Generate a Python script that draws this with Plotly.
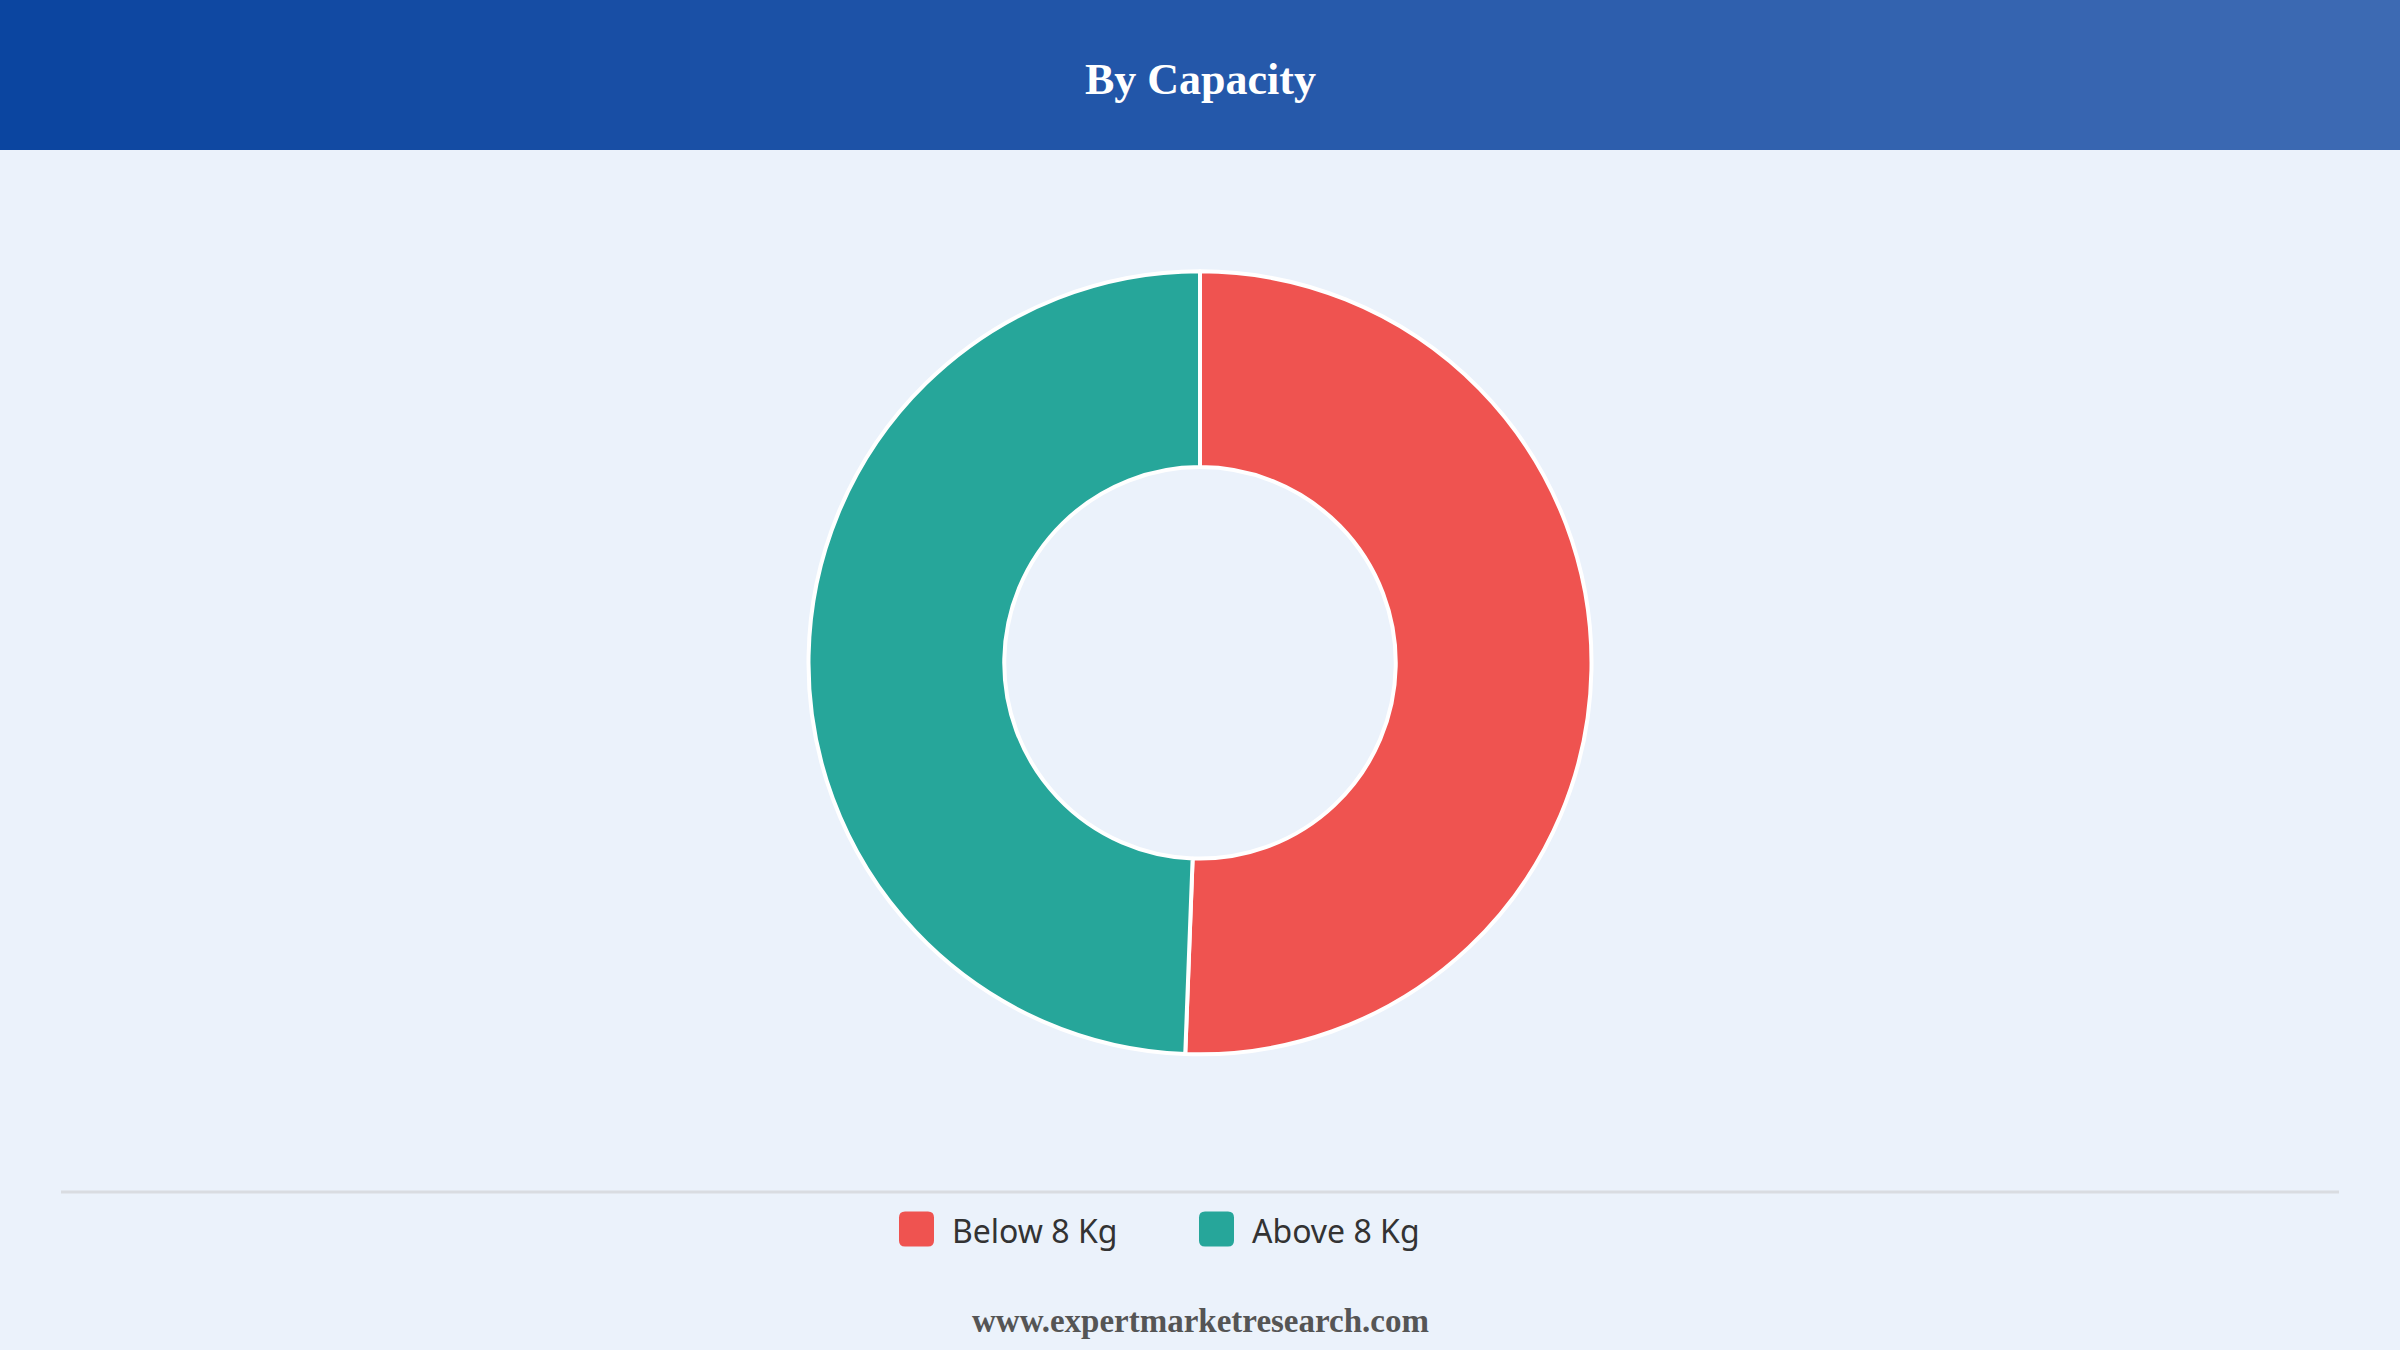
import plotly.graph_objects as go

title = "By Capacity"
labels = ["Below 8 Kg", "Above 8 Kg"]
shares = [50.6, 49.4]
colors = ["#EF5350", "#26A69A"]
source = "www.expertmarketresearch.com"

W, H = 2400, 1350
bg = "#EBF2FB"


def lerp(c1, c2, t):
    return "rgb({},{},{})".format(*[round(a + (b - a) * t) for a, b in zip(c1, c2)])


fig = go.Figure(go.Pie(
    labels=labels,
    values=shares,
    hole=0.5,
    sort=False,
    direction="clockwise",
    rotation=0,
    marker=dict(colors=colors, line=dict(color="white", width=4)),
    textinfo="none",
    hoverinfo="label+percent",
    domain=dict(x=[0, 1], y=[0.219, 0.799]),
    showlegend=False,
))

shapes = []
# header gradient band
n = 80
left, right = (11, 69, 160), (61, 106, 179)
for i in range(n):
    shapes.append(dict(
        type="rect", xref="paper", yref="paper",
        x0=i / n, x1=(i + 1) / n + 0.002, y0=1 - 150 / H, y1=1,
        fillcolor=lerp(left, right, i / (n - 1)), line=dict(width=0), layer="below",
    ))
# divider line above legend
shapes.append(dict(
    type="line", xref="paper", yref="paper",
    x0=61 / W, x1=2339 / W, y0=1 - 1192 / H, y1=1 - 1192 / H,
    line=dict(color="#D9DCE1", width=3),
))

annotations = [
    dict(text="<b>" + title + "</b>", x=0.5, y=1 - 80 / H, xref="paper", yref="paper",
         yanchor="middle", showarrow=False,
         font=dict(family="Liberation Serif", size=44, color="white")),
    dict(text="<b>" + source + "</b>", x=0.5, y=1 - 1321 / H, xref="paper", yref="paper",
         yanchor="middle", showarrow=False,
         font=dict(family="Liberation Serif", size=33, color="#555555")),
]

# legend drawn by hand: rounded swatch + label
sw = 35
for lab, col, x0 in zip(labels, colors, [899, 1199]):
    yc = 1229
    r = 6
    x1, y0, y1 = x0 + sw, yc - sw / 2, yc + sw / 2
    path = (f"M{x0 + r},{y0} L{x1 - r},{y0} Q{x1},{y0} {x1},{y0 + r} "
            f"L{x1},{y1 - r} Q{x1},{y1} {x1 - r},{y1} L{x0 + r},{y1} "
            f"Q{x0},{y1} {x0},{y1 - r} L{x0},{y0 + r} Q{x0},{y0} {x0 + r},{y0} Z")
    shapes.append(dict(type="path", xref="x", yref="y", path=path,
                       fillcolor=col, line=dict(width=0)))
    annotations.append(dict(text=lab, x=x1 + 16, y=yc + 1, xref="x", yref="y",
                            xanchor="left", yanchor="middle", showarrow=False,
                            font=dict(family="Noto Sans", size=32, color="#333333")))

fig.update_layout(
    width=W, height=H,
    margin=dict(l=0, r=0, t=0, b=0),
    paper_bgcolor=bg,
    plot_bgcolor="rgba(0,0,0,0)",
    shapes=shapes,
    annotations=annotations,
    xaxis=dict(range=[0, W], visible=False, fixedrange=True),
    yaxis=dict(range=[H, 0], visible=False, fixedrange=True),
)

fig.write_html("out.html", config={"displayModeBar": False},
               post_script="document.body.style.margin='0';")
